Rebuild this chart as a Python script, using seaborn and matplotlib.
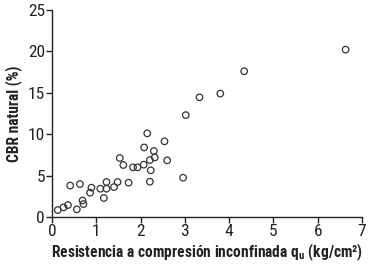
import matplotlib
matplotlib.use("Agg")
import matplotlib.pyplot as plt
import seaborn as sns
import pandas as pd

# resistencia a compresion inconfinada qu (kg/cm2) vs CBR natural (%)
qu = [0.13, 0.26, 0.36, 0.41, 0.56, 0.63, 0.69, 0.71, 0.86, 0.89,
      1.09, 1.17, 1.23, 1.23, 1.40, 1.48, 1.53, 1.61, 1.73, 1.83,
      1.93, 2.07, 2.08, 2.15, 2.21, 2.23, 2.21, 2.30, 2.32, 2.54,
      2.60, 2.96, 3.02, 3.33, 3.80, 4.34, 6.63]
cbr = [0.85, 1.17, 1.45, 3.8, 0.93, 3.98, 2.0, 1.57, 2.94, 3.55,
       3.42, 2.3, 4.23, 3.42, 3.62, 4.23, 7.13, 6.28, 4.15, 6.0,
       6.0, 6.32, 8.4, 10.1, 6.88, 5.64, 4.27, 7.97, 7.2, 9.14,
       6.84, 4.75, 12.3, 14.45, 14.9, 17.6, 20.2]
x_ticks = [0, 1, 2, 3, 4, 5, 6, 7]
y_ticks = [0, 5, 10, 15, 20, 25]

df = pd.DataFrame({"qu": qu, "cbr": cbr})

sns.set_theme(style="ticks")
font = ["Roboto Condensed", "Roboto", "DejaVu Sans"]
plt.rcParams["font.family"] = font
plt.rcParams["mathtext.fontset"] = "custom"
plt.rcParams["mathtext.rm"] = "Roboto Condensed:bold"

fig = plt.figure(figsize=(3.69, 2.67), dpi=100)
ax = fig.add_axes([0.141, 0.187, 0.840, 0.776])

sns.scatterplot(data=df, x="qu", y="cbr", ax=ax, s=22, marker="o",
                facecolor="none", edgecolor="#333333", linewidth=0.9)

ax.set_xlim(0, 7)
ax.set_ylim(0, 25)
ax.set_xticks(x_ticks)
ax.set_yticks(y_ticks)
ax.tick_params(labelsize=12.5, colors="#222222", length=4, width=1, pad=1)
for s in ["left", "bottom"]:
    ax.spines[s].set_color("#222222")
    ax.spines[s].set_linewidth(1)
sns.despine(ax=ax)

ax.set_xlabel("Resistencia a compresión inconfinada q$_\\mathregular{u}$ (kg/cm²)",
              fontsize=11.2, fontweight="bold", color="#222222", labelpad=2)
ax.set_ylabel("CBR natural (%)", fontsize=11.2, fontweight="bold",
              color="#222222", labelpad=4)

fig.savefig("out.png", dpi=100)
